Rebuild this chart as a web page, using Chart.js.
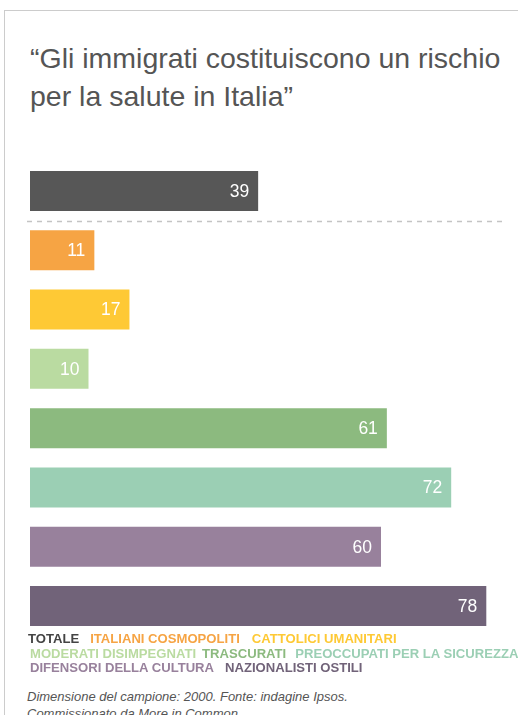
<!DOCTYPE html>
<html>
<head>
<meta charset="utf-8">
<script src="https://cdn.jsdelivr.net/npm/chart.js@4"></script>
<style>
  html, body { margin: 0; padding: 0; background: #fff; }
  body { width: 518px; height: 715px; position: relative; overflow: hidden; font-family: "Liberation Sans", Arial, Helvetica, sans-serif; }
  #frame { position: absolute; left: 4px; top: 10px; width: 540px; height: 800px; border-left: 1.5px solid #cccccc; border-top: 1.5px solid #cccccc; }
  #title { position: absolute; left: 30px; top: 39px; font-size: 28.5px; line-height: 38px; color: #555555; white-space: nowrap; }
  #chartBox { position: absolute; left: 0; top: 150px; width: 518px; height: 500px; }
  #legend { position: absolute; left: 0; top: 632px; font-size: 13.1px; font-weight: bold; line-height: 14.7px; white-space: nowrap; }
  #legend .row { position: relative; }
  #note { position: absolute; left: 27px; top: 689px; font-size: 13px; font-style: italic; line-height: 16.5px; color: #555555; white-space: nowrap; }
</style>
</head>
<body>
<div id="frame"></div>
<div id="title">“Gli immigrati costituiscono un rischio<br>per la salute in Italia”</div>
<div id="chartBox"><canvas id="c" width="518" height="500"></canvas></div>
<div id="legend"></div>
<div id="note">Dimensione del campione: 2000. Fonte: indagine Ipsos.<br>Commissionato da More in Common.</div>
<script>
const categories = ["TOTALE", "ITALIANI COSMOPOLITI", "CATTOLICI UMANITARI", "MODERATI DISIMPEGNATI", "TRASCURATI", "PREOCCUPATI PER LA SICUREZZA", "DIFENSORI DELLA CULTURA", "NAZIONALISTI OSTILI"];
const values = [39, 11, 17, 10, 61, 72, 60, 78];
const colors = ["#575757", "#f6a444", "#fec935", "#badba1", "#8cba7f", "#9bcfb4", "#98819c", "#716379"];
const legendRows = [[0, 1, 2], [3, 4, 5], [6, 7]];
const legendText = ["#444444", "#f6a444", "#fec935", "#badba1", "#8cba7f", "#9bcfb4", "#98819c", "#716379"];

// legend (HTML)
const legendEl = document.getElementById('legend');
const rowLeft = [28, 30, 30];
const gaps = [[0, 11, 12], [0, 6, 9], [0, 11]];
legendRows.forEach((row, r) => {
  const div = document.createElement('div');
  div.className = 'row';
  div.style.paddingLeft = rowLeft[r] + 'px';
  row.forEach((idx, k) => {
    const s = document.createElement('span');
    s.textContent = categories[idx];
    s.style.color = legendText[idx];
    s.style.marginLeft = gaps[r][k] + 'px';
    div.appendChild(s);
  });
  legendEl.appendChild(div);
});

const valueLabels = {
  id: 'valueLabels',
  afterDatasetsDraw(chart) {
    const ctx = chart.ctx;
    const meta = chart.getDatasetMeta(0);
    ctx.save();
    ctx.fillStyle = '#ffffff';
    ctx.font = '17.5px "Liberation Sans", Arial, sans-serif';
    ctx.textAlign = 'right';
    ctx.textBaseline = 'middle';
    meta.data.forEach((bar, i) => {
      ctx.fillText(String(values[i]), bar.x - 9, bar.y + 1);
    });
    ctx.restore();
  }
};

const divider = {
  id: 'divider',
  afterDatasetsDraw(chart) {
    const ctx = chart.ctx;
    const y = chart.scales.y;
    const yy = Math.round((y.getPixelForValue(0) + y.getPixelForValue(1)) / 2) + 0.5;
    ctx.save();
    ctx.strokeStyle = '#c4c4c4';
    ctx.lineWidth = 1.5;
    ctx.setLineDash([5, 5]);
    ctx.beginPath();
    ctx.moveTo(27, yy);
    ctx.lineTo(503, yy);
    ctx.stroke();
    ctx.restore();
  }
};

new Chart(document.getElementById('c'), {
  type: 'bar',
  data: {
    labels: categories,
    datasets: [{
      data: values,
      backgroundColor: colors,
      borderWidth: 0,
      barPercentage: 1,
      categoryPercentage: 0.675
    }]
  },
  options: {
    indexAxis: 'y',
    responsive: false,
    animation: false,
    layout: { padding: { left: 30, right: 20, top: 11.4, bottom: 14.4 } },
    plugins: { legend: { display: false }, tooltip: { enabled: false }, title: { display: false } },
    scales: {
      x: { display: false, min: 0, max: 80 },
      y: { display: false }
    }
  },
  plugins: [valueLabels, divider]
});
</script>
</body>
</html>
